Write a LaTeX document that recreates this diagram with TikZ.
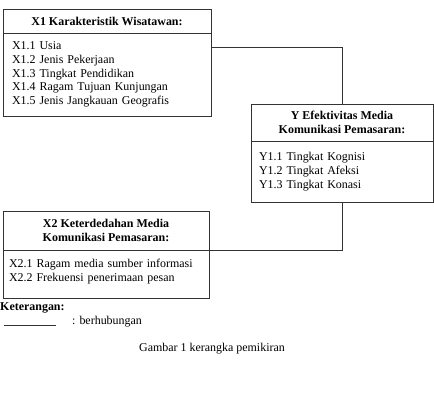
\documentclass[tikz,border=0pt]{standalone}
\usepackage{fontspec}
\setmainfont{Liberation Serif}
\setlength{\parindent}{0pt}
\begin{document}
\begin{tikzpicture}[x=1bp,y=-1bp,
  box/.style={draw=black!80,line width=0.8bp,inner ysep=0pt,outer sep=0pt,anchor=north west},
  head/.style={box,inner xsep=0pt,font=\fontsize{12}{13.8}\selectfont\bfseries,align=center},
  body/.style={box,font=\fontsize{12}{13.8}\selectfont,align=left},
  link/.style={draw=black!80,line width=0.8bp}]
\useasboundingbox (0,0) rectangle (434,412);
% X1
\node[head,minimum width=208bp,minimum height=24bp] (x1h) at (3,9) {X1 Karakteristik Wisatawan:};
\node[body,inner xsep=9bp,text width=190bp,minimum height=83bp] (x1b) at (3,33) {X1.1 Usia\\X1.2 Jenis Pekerjaan\\X1.3 Tingkat Pendidikan\\X1.4 Ragam Tujuan Kunjungan\\X1.5 Jenis Jangkauan Geografis};
% Y
\node[head,minimum width=182bp,minimum height=37bp] (yh) at (251,104) {Y Efektivitas Media\\Komunikasi Pemasaran:};
\node[body,inner xsep=8bp,text width=166bp,minimum height=61bp] (yb) at (251,141) {Y1.1 Tingkat Kognisi\\Y1.2 Tingkat Afeksi\\Y1.3 Tingkat Konasi};
% X2
\node[body,inner xsep=6bp,text width=194bp,minimum height=48bp] (x2b) at (3,250) {X2.1 Ragam media sumber informasi\\X2.2 Frekuensi penerimaan pesan\\[-6bp]\mbox{}};
\node[head,minimum width=206bp,minimum height=39bp] (x2h) at (3,211) {X2 Keterdedahan Media\\Komunikasi Pemasaran:};
% connectors
\coordinate (c1) at (211,47);
\draw[link] (c1) -| (yh.north);
\draw[link] (yb.south) |- (x2b.north east);
% legend
\node[anchor=west,inner sep=0pt,font=\fontsize{12}{13.8}\selectfont\bfseries] (ket) at (0,308) {Keterangan:};
\coordinate (l1) at (4,325);
\coordinate (l2) at (56,325);
\draw[link] (l1) -- (l2);
\node[anchor=west,inner sep=0pt,font=\fontsize{12}{13.8}\selectfont] (berh) at (72,322) {: berhubungan};
\node[inner sep=0pt,font=\fontsize{12}{13.8}\selectfont] (cap) at (212,349) {Gambar 1 kerangka pemikiran};
\end{tikzpicture}
\end{document}
